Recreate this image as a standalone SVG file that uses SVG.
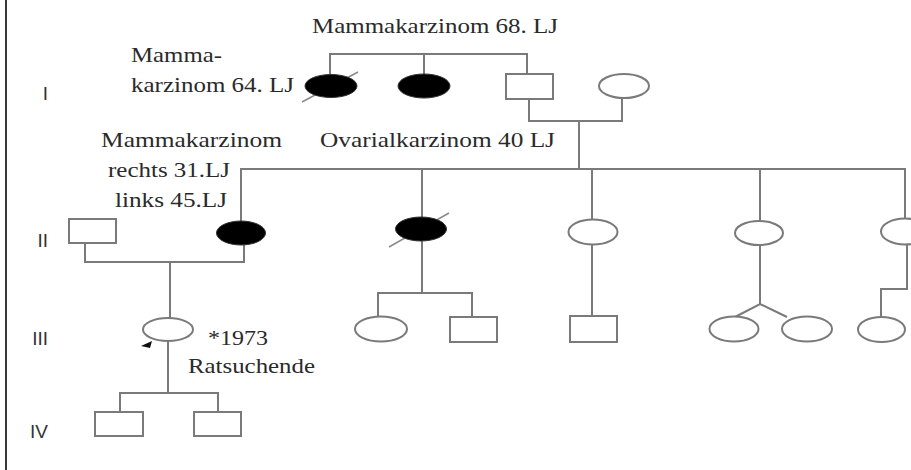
<svg xmlns="http://www.w3.org/2000/svg" width="911" height="470" viewBox="0 0 911 470">
<style>
.bg{fill:#ffffff}
.ln{stroke:#7a7a7a;stroke-width:2;fill:none}
.f{fill:#ffffff;stroke:#7a7a7a;stroke-width:2}
.a{fill:#000000;stroke:#333;stroke-width:1}
.sl{stroke:#8a8a8a;stroke-width:1.5}
.t{font-family:"Liberation Serif","Times New Roman",serif;font-size:22px;fill:#2a2a2a}
.g{font-family:"Liberation Sans",Arial,sans-serif;font-size:19px;fill:#333;text-anchor:end}
</style>
<rect class="bg" x="0" y="0" width="911" height="470"/>
<line x1="6" y1="0" x2="6" y2="470" stroke="#222" stroke-width="1.8"/>

<g id="generations">
<text class="g" x="48" y="100">I</text>
<text class="g" x="48" y="247">II</text>
<text class="g" x="48" y="345">III</text>
<text class="g" x="48" y="438">IV</text>
</g>

<g id="connectors">
<polyline class="ln" points="330,75 330,54 527,54 527,74"/>
<line class="ln" x1="424" y1="54" x2="424" y2="74"/>
<polyline class="ln" points="529,99 529,121 622,121 622,98"/>
<line class="ln" x1="579" y1="121" x2="579" y2="169"/>
<polyline class="ln" points="241,221 241,169 905,169 905,218"/>
<line class="ln" x1="422" y1="169" x2="422" y2="217"/>
<line class="ln" x1="592" y1="169" x2="592" y2="220"/>
<line class="ln" x1="760" y1="169" x2="760" y2="221"/>
<polyline class="ln" points="85,243 85,262 244,262 244,245"/>
<line class="ln" x1="170" y1="262" x2="170" y2="318"/>
<line class="ln" x1="168" y1="341" x2="168" y2="393"/>
<polyline class="ln" points="120,412 120,393 218,393 218,412"/>
<line class="ln" x1="422" y1="241" x2="422" y2="293"/>
<polyline class="ln" points="378,317 378,293 472,293 472,317"/>
<line class="ln" x1="592" y1="245" x2="592" y2="316"/>
<line class="ln" x1="760" y1="245" x2="760" y2="304"/>
<polyline class="ln" points="735,317 760,304 787,317"/>
<polyline class="ln" points="907,245 907,289 881,289 881,317"/>
</g>

<g id="I-1">
<line class="sl" x1="302" y1="102" x2="358" y2="72"/>
<ellipse class="a" cx="331" cy="86" rx="26" ry="11.5"/>
</g>
<g id="I-2"><ellipse class="a" cx="424" cy="86" rx="26" ry="12"/></g>
<g id="I-3"><rect class="f" x="506" y="74" width="47" height="25"/></g>
<g id="I-4"><ellipse class="f" cx="624" cy="86" rx="25" ry="12"/></g>

<g id="II-1"><rect class="f" x="69" y="219" width="47" height="24"/></g>
<g id="II-2"><ellipse class="a" cx="241" cy="233" rx="24.5" ry="12"/></g>
<g id="II-3">
<line class="sl" x1="389" y1="247" x2="449" y2="213"/>
<ellipse class="a" cx="421" cy="229" rx="25.5" ry="12"/>
</g>
<g id="II-4"><ellipse class="f" cx="593" cy="232" rx="24.5" ry="12.5"/></g>
<g id="II-5"><ellipse class="f" cx="759" cy="233" rx="24" ry="12"/></g>
<g id="II-6"><ellipse class="f" cx="905" cy="231.5" rx="24" ry="13"/></g>

<g id="III-1">
<ellipse class="f" cx="168" cy="329.5" rx="25" ry="11.5"/>
<polygon points="141,346 152,341 150,348" fill="#111"/>
</g>
<g id="III-2"><ellipse class="f" cx="381" cy="329" rx="26" ry="12.5"/></g>
<g id="III-3"><rect class="f" x="450" y="317" width="47" height="25"/></g>
<g id="III-4"><rect class="f" x="570" y="316" width="47" height="26"/></g>
<g id="III-5"><ellipse class="f" cx="734" cy="329" rx="24.5" ry="12.5"/></g>
<g id="III-6"><ellipse class="f" cx="807" cy="329" rx="25" ry="12.5"/></g>
<g id="III-7"><ellipse class="f" cx="881.5" cy="329.5" rx="23.5" ry="12.5"/></g>

<g id="IV-1"><rect class="f" x="95" y="412" width="48" height="24"/></g>
<g id="IV-2"><rect class="f" x="194" y="412" width="47" height="24"/></g>

<g id="labels">
<text class="t" x="312" y="33" textLength="246" lengthAdjust="spacingAndGlyphs">Mammakarzinom 68. LJ</text>
<text class="t" x="131" y="62" textLength="91" lengthAdjust="spacingAndGlyphs">Mamma-</text>
<text class="t" x="131" y="92" textLength="163" lengthAdjust="spacingAndGlyphs">karzinom 64. LJ</text>
<text class="t" x="101" y="147" textLength="181" lengthAdjust="spacingAndGlyphs">Mammakarzinom</text>
<text class="t" x="108" y="177" textLength="122" lengthAdjust="spacingAndGlyphs">rechts 31.LJ</text>
<text class="t" x="115" y="207" textLength="112" lengthAdjust="spacingAndGlyphs">links 45.LJ</text>
<text class="t" x="320" y="147" textLength="235" lengthAdjust="spacingAndGlyphs">Ovarialkarzinom 40 LJ</text>
<text class="t" x="208" y="345" textLength="60" lengthAdjust="spacingAndGlyphs">*1973</text>
<text class="t" x="188" y="373" textLength="127" lengthAdjust="spacingAndGlyphs">Ratsuchende</text>
</g>
</svg>
